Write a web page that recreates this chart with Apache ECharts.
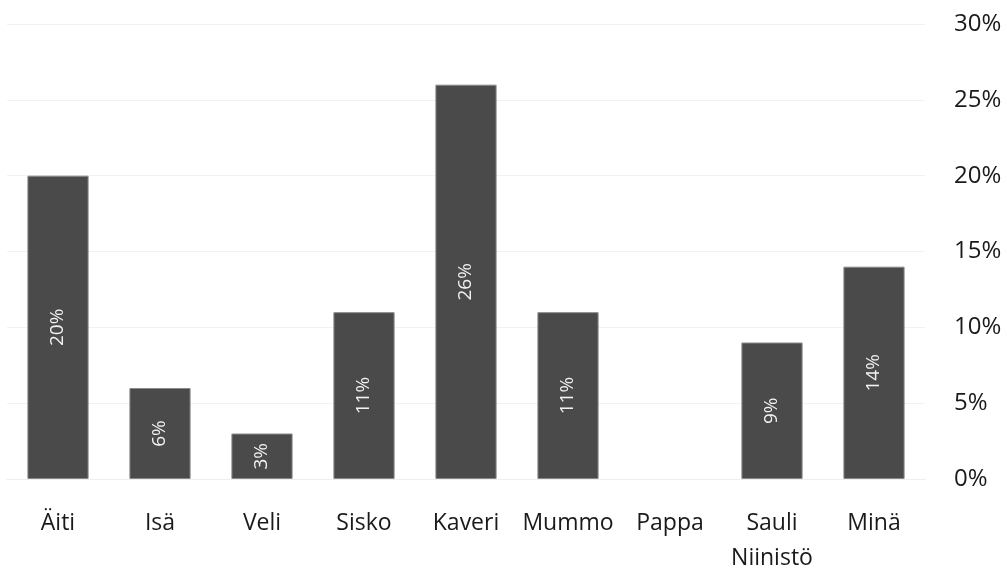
<!DOCTYPE html>
<html>
<head>
<meta charset="utf-8">
<script src="https://cdn.jsdelivr.net/npm/echarts@6/dist/echarts.min.js"></script>
<style>
html,body{margin:0;padding:0;background:#fff;}
#chart{width:1007px;height:576px;}
</style>
</head>
<body>
<div id="chart"></div>
<script>
const categories = ['Äiti', 'Isä', 'Veli', 'Sisko', 'Kaveri', 'Mummo', 'Pappa', 'Sauli\nNiinistö', 'Minä'];
const values = [20, 6, 3, 11, 26, 11, 0, 9, 14];
const yTicks = { min: 0, max: 30, interval: 5 };

const chart = echarts.init(document.getElementById('chart'));
chart.setOption({
  animation: false,
  backgroundColor: '#ffffff',
  grid: { left: 7, right: 82, top: 24, bottom: 92, containLabel: false },
  xAxis: {
    type: 'category',
    data: categories,
    axisLine: { show: true, lineStyle: { color: '#eeeeee', width: 1 } },
    axisTick: { show: false },
    axisLabel: {
      color: '#1a1a1a',
      fontFamily: 'Open Sans',
      fontSize: 23,
      margin: 27,
      lineHeight: 35,
      interval: 0
    }
  },
  yAxis: {
    type: 'value',
    position: 'right',
    min: yTicks.min,
    max: yTicks.max,
    interval: yTicks.interval,
    axisLine: { show: false },
    axisTick: { show: false },
    splitLine: { lineStyle: { color: '#f2f2f2', width: 1 } },
    axisLabel: {
      color: '#1a1a1a',
      fontFamily: 'Open Sans',
      fontSize: 24,
      margin: 29,
      formatter: v => v + '%'
    }
  },
  series: [{
    type: 'bar',
    data: values.map(v => v === 0 ? { value: v, itemStyle: { borderWidth: 0 } } : v),
    barCategoryGap: '40%',
    itemStyle: { color: '#4a4a4a', borderColor: '#8a8a8a', borderWidth: 1 },
    label: {
      show: true,
      position: 'inside',
      rotate: 90,
      color: '#f2f2f2',
      fontFamily: 'Open Sans',
      fontSize: 19,
      formatter: p => p.value > 0 ? p.value + '%' : ''
    }
  }]
});
</script>
</body>
</html>
